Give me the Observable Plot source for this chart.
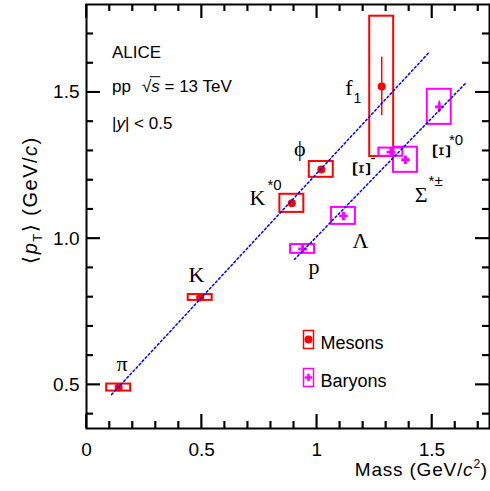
<!DOCTYPE html>
<html><head><meta charset="utf-8">
<script src="https://cdn.jsdelivr.net/npm/d3@7"></script>
<script src="https://cdn.jsdelivr.net/npm/@observablehq/plot@0.6"></script>
<style>body{margin:0;background:#fff} svg{display:block}</style>
</head><body><div id="chart"></div>
<script>
// ---- data ----
const mesonNames = ["π", "K", "K*0", "φ", "f1"];
const mesonMass  = [0.1396, 0.4937, 0.8917, 1.0195, 1.2819];
const mesonPt    = [0.490, 0.798, 1.120, 1.236, 1.520];
const mesonStat  = [0.002, 0.003, 0.006, 0.005, 0.100];
const mesonSys   = [0.012, 0.010, 0.031, 0.027, 0.240];

const baryonNames = ["p", "Λ", "Ξ-", "Σ*±", "Ξ*0"];
const baryonMass  = [0.9383, 1.1157, 1.3217, 1.3850, 1.5318];
const baryonPt    = [0.964, 1.077, 1.295, 1.269, 1.450];
const baryonStat  = [0.003, 0.006, 0.006, 0.010, 0.020];
const baryonSys   = [0.015, 0.029, 0.014, 0.043, 0.060];

const mesonFitMass  = [0.109, 1.485];
const mesonFitPt    = [0.466, 1.634];
const baryonFitMass = [0.903, 1.650];
const baryonFitPt   = [0.928, 1.534];

const xDomain = [0, 1.75];
const yDomain = [0.35, 1.8];
const xMajorTicks = [0, 0.5, 1, 1.5];
const xMinorTicks = [0.1,0.2,0.3,0.4,0.6,0.7,0.8,0.9,1.1,1.2,1.3,1.4,1.6,1.7];
const yMajorTicks = [0.5, 1.0, 1.5];
const yMinorTicks = [0.4,0.6,0.7,0.8,0.9,1.1,1.2,1.3,1.4,1.6,1.7];

// particle labels (base glyph anchor in data units)
const labelText = ["π", "K", "K", "ϕ", "f", "Λ", "p", "Σ", "Ξ", "Ξ"];
const labelMass = [0.178, 0.512, 0.777, 0.951, 1.155, 1.2245, 1.012, 1.481, 1.194, 1.539];
const labelPt   = [0.572, 0.874, 1.137, 1.305, 1.514, 0.993, 0.901, 1.1475, 1.237, 1.298];
const labelRot  = [false, false, false, false, false, false, false, false, true, true];
const labelScript = ["", "", "*0", "", "1", "", "", "*±", "-", "*0"];

const legendNames = ["Mesons", "Baryons"];

// ---- styles / layout ----
const RED = "#ff0000", MAG = "#ff00ff", BLUE = "#0000ff";
const W = 490, H = 491, ML = 86, MR = 1, MT = 4, MB = 63;
const boxHalf = 0.052;
const pxX = (W - ML - MR) / (xDomain[1] - xDomain[0]); // px per unit
const pxY = (H - MT - MB) / (yDomain[1] - yDomain[0]);
const scriptOffset = { // dx, dy, size per label index
  2: [2, -13, 15], 4: [1, 10, 14], 7: [1, -14, 15], 8: [9, -11, 15], 9: [8, -11, 15]
};

const meson = mesonNames.map((n, i) => ({n, m: mesonMass[i], pt: mesonPt[i], stat: mesonStat[i], sys: mesonSys[i]}));
const baryon = baryonNames.map((n, i) => ({n, m: baryonMass[i], pt: baryonPt[i], stat: baryonStat[i], sys: baryonSys[i]}));
const mesonFit = mesonFitMass.map((m, i) => ({m, pt: mesonFitPt[i]}));
const baryonFit = baryonFitMass.map((m, i) => ({m, pt: baryonFitPt[i]}));
const labels = labelText.map((t, i) => ({t, m: labelMass[i], pt: labelPt[i], rot: labelRot[i], s: labelScript[i], i}));

const rectSym = {draw(ctx) { ctx.rect(-5, -9, 10, 18); }};

const scriptMarks = labels.filter(d => d.s).map(d => {
  const [dx, dy, fs] = scriptOffset[d.i];
  return Plot.text([d], {x: "m", y: "pt", text: "s", dx, dy, fontSize: fs, textAnchor: "start",
    fontFamily: "Liberation Sans, Arial, sans-serif", fill: "black"});
});

// inward ticks (stroke given per element through an identity colour channel)
const tickObjs = (vals, len) => vals.map(v => ({v, len, c: "#000000"}));
const xTickData = [...tickObjs(xMajorTicks, 14), ...tickObjs(xMinorTicks, 7)];
const yTickData = [...tickObjs(yMajorTicks, 14), ...tickObjs(yMinorTicks, 7)];
const tickMarks = [
  Plot.ruleX(xTickData, {x: "v", y1: yDomain[0], y2: d => yDomain[0] + d.len / pxY, stroke: "c", strokeWidth: 1.6}),
  Plot.ruleX(xTickData, {x: "v", y1: yDomain[1], y2: d => yDomain[1] - d.len / pxY, stroke: "c", strokeWidth: 1.6}),
  Plot.ruleY(yTickData, {y: "v", x1: xDomain[0], x2: d => xDomain[0] + d.len / pxX, stroke: "c", strokeWidth: 1.6}),
  Plot.ruleY(yTickData, {y: "v", x1: xDomain[1], x2: d => xDomain[1] - d.len / pxX, stroke: "c", strokeWidth: 1.6})
];

const plot = Plot.plot({
  width: W, height: H,
  marginLeft: ML, marginRight: MR, marginTop: MT, marginBottom: MB,
  x: {domain: xDomain},
  y: {domain: yDomain},
  color: {type: "identity"},
  style: {fontFamily: "Liberation Sans, Arial, sans-serif", fontSize: "18px", background: "white", color: "black"},
  marks: [
    Plot.frame({stroke: "black", strokeWidth: 2, fill: "none"}),
    // tick labels
    Plot.axisX({anchor: "bottom", ticks: xMajorTicks, tickSize: 0, tickPadding: 14, tickFormat: d => String(d), label: null, fontSize: 19}),
    Plot.axisY({anchor: "left", ticks: yMajorTicks, tickSize: 0, tickPadding: 7, tickFormat: d3.format(".1f"), label: null, fontSize: 19}),
    // systematic boxes
    Plot.rect(meson, {x1: d => d.m - boxHalf, x2: d => d.m + boxHalf, y1: d => d.pt - d.sys, y2: d => d.pt + d.sys, fill: "none", stroke: RED, strokeWidth: 2}),
    Plot.rect(baryon, {x1: d => d.m - boxHalf, x2: d => d.m + boxHalf, y1: d => d.pt - d.sys, y2: d => d.pt + d.sys, fill: "none", stroke: MAG, strokeWidth: 2}),
    // statistical errors
    Plot.ruleX(meson, {x: "m", y1: d => d.pt - d.stat, y2: d => d.pt + d.stat, stroke: RED, strokeWidth: 1.5}),
    Plot.ruleX(baryon, {x: "m", y1: d => d.pt - d.stat, y2: d => d.pt + d.stat, stroke: MAG, strokeWidth: 1.5}),
    // markers
    Plot.dot(meson, {x: "m", y: "pt", r: 4, fill: RED, stroke: "none"}),
    Plot.dot(baryon, {x: "m", y: "pt", r: 3.6, symbol: "cross", fill: MAG, stroke: "none"}),
    // fits
    Plot.line(mesonFit, {x: "m", y: "pt", stroke: BLUE, strokeWidth: 1.5, strokeDasharray: "2,2.5"}),
    Plot.line(baryonFit, {x: "m", y: "pt", stroke: BLUE, strokeWidth: 1.5, strokeDasharray: "2,2.5"}),
    // particle labels
    Plot.text(labels.filter(d => !d.rot), {x: "m", y: "pt", text: "t", textAnchor: "end", fontSize: 22,
      fontFamily: "Liberation Serif, Times New Roman, serif", fill: "black"}),
    Plot.text(labels.filter(d => d.rot), {x: "m", y: "pt", text: "t", rotate: 90, fontSize: 25,
      fontFamily: "Liberation Serif, Times New Roman, serif", fill: "black"}),
    ...scriptMarks,
    // legend
    Plot.dot([legendNames[0]], {frameAnchor: "top-left", dx: 222, dy: 335, symbol: rectSym, fill: "none", stroke: RED, strokeWidth: 1.5}),
    Plot.dot([legendNames[0]], {frameAnchor: "top-left", dx: 222, dy: 335, r: 4, fill: RED}),
    Plot.text([legendNames[0]], {frameAnchor: "top-left", dx: 234, dy: 332, text: d => d, textAnchor: "start", fontSize: 18}),
    Plot.dot([legendNames[1]], {frameAnchor: "top-left", dx: 222, dy: 373, symbol: rectSym, fill: "none", stroke: MAG, strokeWidth: 1.5}),
    Plot.dot([legendNames[1]], {frameAnchor: "top-left", dx: 222, dy: 373, r: 3.2, symbol: "cross", fill: MAG}),
    Plot.text([legendNames[1]], {frameAnchor: "top-left", dx: 234, dy: 370, text: d => d, textAnchor: "start", fontSize: 18}),
    ...tickMarks
  ]
});

document.getElementById("chart").appendChild(plot);

const svg = d3.select(plot);

// backup ticks: each line carries its own stroke (positions from Plot's scales)
{
  const X = plot.scale("x"), Y = plot.scale("y");
  const [xl, xr] = X.range, [yb, yt] = Y.range;
  const tg = svg.append("g");
  const ln = (x1, y1, x2, y2) => tg.append("line")
    .attr("x1", x1).attr("y1", y1).attr("x2", x2).attr("y2", y2)
    .attr("stroke", "#000000").attr("stroke-width", 1.6)
    .style("stroke", "#000000").style("stroke-width", "1.6px");
  xTickData.forEach(d => { const x = X.apply(d.v); ln(x, yb, x, yb - d.len); ln(x, yt, x, yt + d.len); });
  yTickData.forEach(d => { const y = Y.apply(d.v); ln(xl, y, xl + d.len, y); ln(xr, y, xr - d.len, y); });
}

// ---- rich text (italics, sub/superscripts) ----
const g = svg.append("g").attr("font-family", "Liberation Sans, Arial, sans-serif").attr("fill", "black").attr("text-anchor", "start");

g.append("text").attr("x", 112).attr("y", 58).attr("font-size", 17).text("ALICE");

const t2 = g.append("text").attr("x", 112).attr("y", 92).attr("font-size", 17);
t2.append("tspan").text("pp");
t2.append("tspan").attr("dx", 11).text("√");
t2.append("tspan").attr("font-style", "italic").text("s");
t2.append("tspan").text(" = 13 TeV");
{
  const node = t2.node();
  const full = node.textContent;
  const iS = full.indexOf("s");
  const iR = full.indexOf("√");
  try {
    const x0 = node.getEndPositionOfChar(iR).x - 1.5;
    const x1 = node.getEndPositionOfChar(iS).x + 0.5;
    g.append("line").attr("x1", x0).attr("x2", x1).attr("y1", 92 - 15.3).attr("y2", 92 - 15.3)
      .attr("stroke", "black").attr("stroke-width", 1);
  } catch (e) {}
}

const t3 = g.append("text").attr("x", 112).attr("y", 129).attr("font-size", 17);
t3.append("tspan").text("|");
t3.append("tspan").attr("font-style", "italic").text("y");
t3.append("tspan").text("| < 0.5");

// x title
const xt = g.append("text").attr("x", 488).attr("y", 476).attr("font-size", 19).attr("text-anchor", "end").attr("letter-spacing", 0.8);
xt.append("tspan").text("Mass (GeV/");
xt.append("tspan").attr("font-style", "italic").text("c");
xt.append("tspan").attr("font-size", 12).attr("dy", -8).text("2");
xt.append("tspan").attr("dy", 8).text(")");

// y title
const ytl = g.append("text").attr("transform", "translate(37,200) rotate(-90)").attr("font-size", 20).attr("text-anchor", "middle").attr("letter-spacing", 1.5);
ytl.append("tspan").text("⟨");
ytl.append("tspan").attr("font-style", "italic").text("p");
ytl.append("tspan").attr("font-size", 13).attr("dy", 5).text("T");
ytl.append("tspan").attr("dy", -5).text("⟩ (GeV/");
ytl.append("tspan").attr("font-style", "italic").text("c");
ytl.append("tspan").text(")");
</script>
</body></html>
